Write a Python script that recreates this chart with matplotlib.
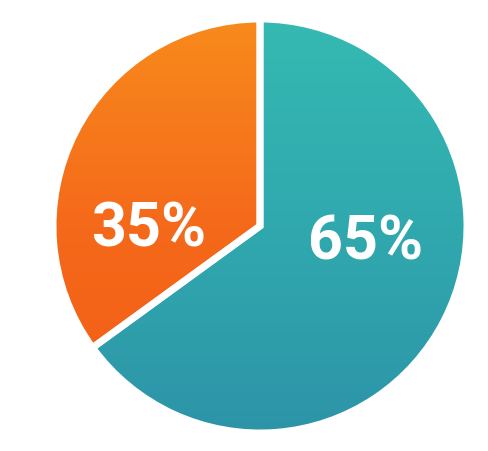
import matplotlib.pyplot as plt
import numpy as np
from matplotlib.colors import LinearSegmentedColormap

# data
labels = ["35%", "65%"]
shares = [35, 65]
orange_stops = ["#F88A1C", "#F5691A", "#F25C16"]
teal_stops = ["#35B9B2", "#30A9AE", "#2D94A8"]

fig = plt.figure(figsize=(4.89, 4.51), dpi=100)
fig.patch.set_facecolor("white")
ax = fig.add_axes([53 / 489, 18 / 451, 414 / 489, 414 / 451])
ax.axis("off")

wedges, _ = ax.pie(shares, startangle=90, counterclock=True, radius=1,
                   colors=["none", "none"],
                   wedgeprops=dict(edgecolor="white", linewidth=5))
ax.set_xlim(-1, 1)
ax.set_ylim(-1, 1)

# vertical gradient fill clipped to each wedge
grad = np.linspace(0, 1, 256).reshape(-1, 1)
for w, stops in zip(wedges, [orange_stops, teal_stops]):
    cmap = LinearSegmentedColormap.from_list("g", stops)
    im = ax.imshow(grad, cmap=cmap, extent=(-1, 1, -1, 1), origin="upper",
                   aspect="auto", zorder=1)
    im.set_clip_path(w)
    w.set_zorder(2)

txt = dict(ha="center", va="baseline", color="white", fontsize=44,
           fontweight="bold", family="Roboto", zorder=3)
ax.text(-0.54, -0.097, labels[0], **txt)
ax.text(0.51, -0.164, labels[1], **txt)

fig.savefig("out.png", dpi=100, facecolor="white")
